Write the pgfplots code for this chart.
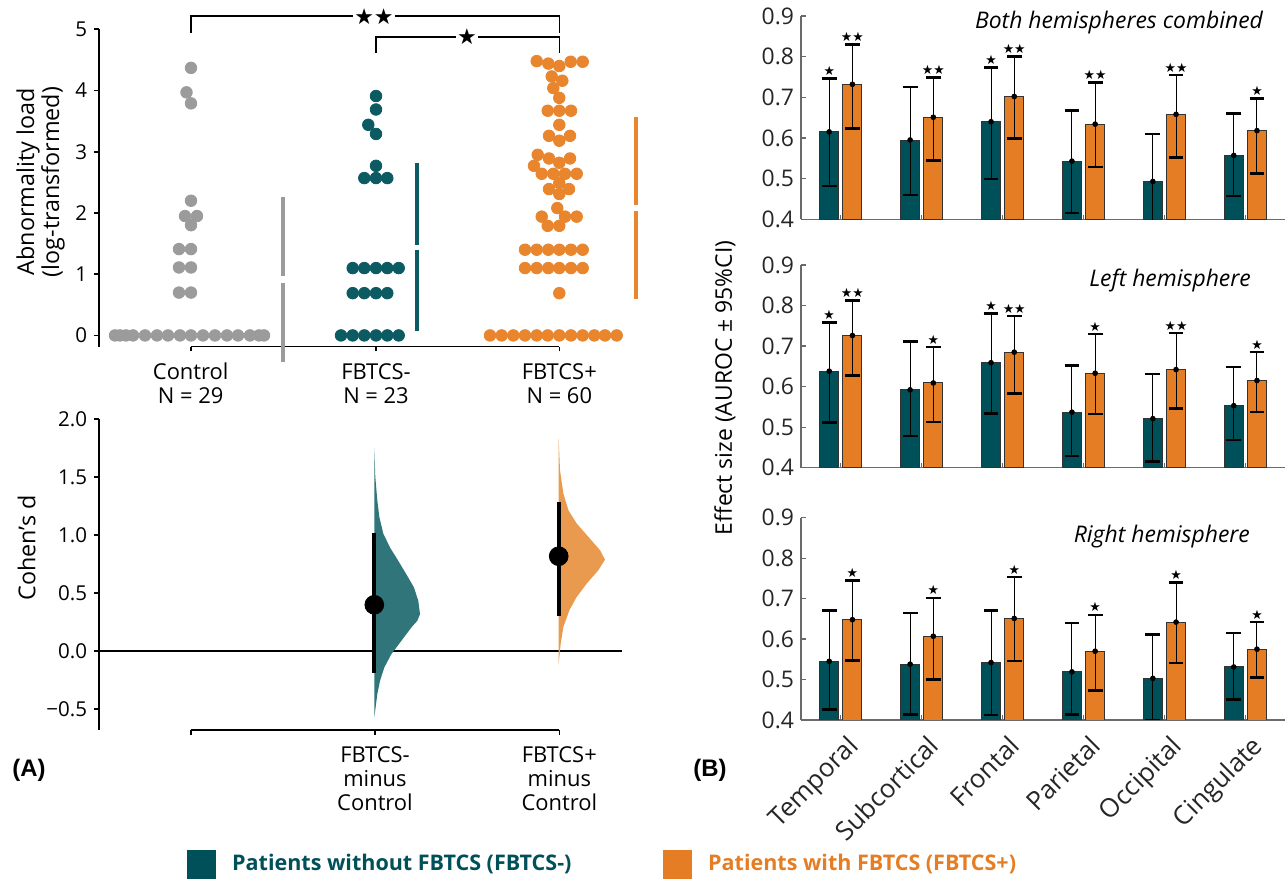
\documentclass[border=0pt]{standalone}
\usepackage{pgfplots}
\usepackage{pgfplotstable}
\pgfplotsset{compat=1.18}
\usepackage{fontspec}
\setmainfont{Open Sans}
\newfontfamily\starfont{DejaVu Sans}
\newfontfamily\labfont{Liberation Sans}
\definecolor{tealbar}{HTML}{00505A}
\definecolor{orangebar}{HTML}{E47D23}
\definecolor{tealdot}{HTML}{0C5A62}
\definecolor{orangedot}{HTML}{E8852D}
\definecolor{graydot}{HTML}{9B9B9B}
\definecolor{tealviolin}{HTML}{2F7579}
\definecolor{orangeviolin}{HTML}{EA9A4E}
\definecolor{axgray}{HTML}{6A6A6A}
\newcommand\stars[1]{\ifcase#1\relax\or★\or★★\fi}

% ---------- bar data: x  mean  CI-low  CI-high  stars ----------
\pgfplotstableread{
x m lo hi s
0 0.615 0.482 0.746 1
1 0.595 0.460 0.725 0
2 0.640 0.499 0.774 1
3 0.543 0.415 0.668 0
4 0.493 0.380 0.610 0
5 0.557 0.457 0.660 0
}\tBothT
\pgfplotstableread{
x m lo hi s
0 0.732 0.624 0.830 2
1 0.651 0.544 0.748 2
2 0.702 0.598 0.800 2
3 0.634 0.529 0.737 2
4 0.658 0.552 0.755 2
5 0.618 0.512 0.697 1
}\tBothO
\pgfplotstableread{
x m lo hi s
0 0.638 0.512 0.758 1
1 0.592 0.478 0.712 0
2 0.659 0.534 0.781 1
3 0.537 0.429 0.652 0
4 0.521 0.415 0.631 0
5 0.553 0.468 0.648 0
}\tLeftT
\pgfplotstableread{
x m lo hi s
0 0.726 0.627 0.812 2
1 0.609 0.513 0.698 1
2 0.685 0.583 0.774 2
3 0.633 0.532 0.730 1
4 0.642 0.546 0.732 2
5 0.615 0.537 0.685 1
}\tLeftO
\pgfplotstableread{
x m lo hi s
0 0.545 0.426 0.671 0
1 0.538 0.414 0.664 0
2 0.542 0.412 0.671 0
3 0.519 0.413 0.640 0
4 0.503 0.400 0.611 0
5 0.531 0.451 0.615 0
}\tRightT
\pgfplotstableread{
x m lo hi s
0 0.648 0.547 0.745 1
1 0.607 0.500 0.702 1
2 0.651 0.546 0.753 1
3 0.570 0.473 0.660 1
4 0.642 0.541 0.740 1
5 0.575 0.505 0.642 1
}\tRightO

% ---------- swarm data (x in layout units, y = abnormality load) ----------
\pgfplotstableread{
x y
115 0
120 0
126 0
133 0
145 0
157 0
168 0
180 0
191 0
203 0
215 0
227 0
238 0
250 0
259 0
264 0
191 4.37
186.5 3.97
191 3.79
191 2.20
185 1.95
197 1.95
191 1.80
179 1.41
191 1.41
179 1.11
191 1.11
179 0.70
191 0.70
}\dCtrl
\pgfplotstableread{
x y
376 3.91
376 3.69
368.3 3.44
376 3.29
376 2.77
364.3 2.57
376 2.57
387.3 2.57
352.7 1.10
364.3 1.10
376 1.10
387.3 1.10
398.7 1.10
352.7 0.69
364.3 0.69
376 0.69
387.3 0.69
341 0
352.7 0
364.3 0
376 0
387.3 0
398.7 0
}\dNeg
\pgfplotstableread{
x y
536.7 4.48
548.3 4.44
559.3 4.40
570.7 4.47
582.7 4.47
551.7 4.23
562.3 4.16
553.3 4.04
559.3 3.88
547.7 3.67
559.3 3.67
571 3.67
559.3 3.44
549 3.26
570 3.26
559.3 3.18
537.7 2.95
549 2.89
570 2.89
559.3 2.82
534 2.77
541.7 2.64
553.3 2.64
565 2.64
576.7 2.64
559.3 2.49
549 2.39
569 2.39
559.3 2.31
557.3 2.08
541.7 1.94
565 1.94
576.7 1.94
547.7 1.79
559.3 1.79
525 1.40
536.7 1.40
548.3 1.40
559.3 1.40
571 1.40
582.7 1.40
525 1.10
536.7 1.10
548.3 1.10
559.3 1.10
571 1.10
582.7 1.10
559.3 0.69
490 0
501.7 0
513.3 0
525 0
536.7 0
547.7 0
559.3 0
571 0
582.7 0
594.3 0
605 0
616.7 0
}\dPos

% ---------- half-violin outlines (x, Cohen's d) ----------
\pgfplotstableread{
x y
374.3 1.756
375.3 1.503
377.3 1.302
379.3 1.158
383.3 1.014
390.0 0.894
398.3 0.779
406.3 0.664
414.0 0.549
418.3 0.434
420.0 0.319
417.3 0.262
411.3 0.204
401.3 0.089
391.3 -0.026
384.3 -0.141
380.0 -0.256
377.3 -0.371
375.6 -0.486
374.3 -0.572
}\vNeg
\pgfplotstableread{
x y
558.7 1.834
560.0 1.560
563.4 1.359
568.4 1.216
576.7 1.101
588.4 0.986
600.0 0.871
605.0 0.790
598.4 0.698
586.7 0.583
576.7 0.468
569.4 0.353
563.4 0.210
560.7 0.066
558.7 -0.106
}\vPos

\pgfplotsset{
  leftax/.style={
    scale only axis, width=261.65bp,
    xmin=98.7, xmax=622,
    axis x line*=bottom, axis y line*=left,
    x axis line style={draw=none},
    y axis line style={black, line width=0.8bp, -},
    tick align=outside, major tick length=2.3bp,
    tick style={black, line width=0.8bp},
    clip=false,
    yticklabel style={font=\fontsize{10.3}{12}\selectfont},
    xticklabel style={align=center, font=\fontsize{11}{12}\selectfont, yshift=-2.5bp},
  },
  barax/.style={
    scale only axis, width=242bp,
    xmin=-0.492, xmax=5.49, ymin=0.4, ymax=0.9,
    clip mode=individual,
    axis x line*=bottom, axis y line*=left,
    axis line style={axgray, line width=0.6bp, -},
    tick align=inside, major tick length=2.3bp,
    tick style={axgray, line width=0.6bp},
    xtick={0,1,2,3,4,5}, xticklabels={},
    ytick={0.4,0.5,0.6,0.7,0.8,0.9},
    yticklabels={0.4,0.5,0.6,0.7,0.8,0.9},
    ticklabel style={font=\fontsize{11.5}{13}\selectfont, text=black!85},
    bar width=0.235,
  },
  barT/.style={ybar, bar shift=0pt, fill=tealbar, draw=black!80, line width=0.5bp,
    error bars/.cd, y dir=both, y explicit, error mark=|,
    error bar style={black, line width=0.5bp},
    error mark options={black, line width=1.3bp, mark size=3.7bp}},
  barO/.style={ybar, bar shift=0pt, fill=orangebar, draw=black!80, line width=0.5bp,
    error bars/.cd, y dir=both, y explicit, error mark=|,
    error bar style={black, line width=0.5bp},
    error mark options={black, line width=1.3bp, mark size=3.7bp}},
  starplot/.style={draw=none, mark=none, point meta=explicit symbolic,
    nodes near coords={\starfont\fontsize{6.4}{7}\selectfont\stars{\pgfplotspointmeta}},
    every node near coord/.style={anchor=south, inner sep=1.2bp, text=black}},
}

\newcommand\barpanel[2]{%
  \addplot[barT] table[x expr=\thisrow{x}-0.1434, y=m,
     y error plus expr=\thisrow{hi}-\thisrow{m}, y error minus expr=\thisrow{m}-\thisrow{lo}] #1;
  \addplot[barO] table[x expr=\thisrow{x}+0.1434, y=m,
     y error plus expr=\thisrow{hi}-\thisrow{m}, y error minus expr=\thisrow{m}-\thisrow{lo}] #2;
  \addplot[only marks, mark=*, mark size=1.2bp, black] table[x expr=\thisrow{x}-0.1434, y=m] #1;
  \addplot[only marks, mark=*, mark size=1.2bp, black] table[x expr=\thisrow{x}+0.1434, y=m] #2;
  \addplot[starplot] table[x expr=\thisrow{x}-0.1434, y=hi, meta=s] #1;
  \addplot[starplot] table[x expr=\thisrow{x}+0.1434, y=hi, meta=s] #2;
}

\begin{document}
\begin{tikzpicture}
\useasboundingbox (0,0) rectangle (643.5bp,441.5bp);

% ================= (A) top: abnormality load =================
\begin{axis}[leftax, at={(49.35bp,268.15bp)}, anchor=south west, height=158.7bp,
  ymin=-0.184, ymax=5,
  ytick={0,1,2,3,4,5}, yticklabels={0,1,2,3,4,5},
  xtick={190.7,376,559.3},
  xticklabels={{Control\\N = 29},{FBTCS-\\N = 23},{FBTCS+\\N = 60}},
  ylabel={Abnormality load\\(log-transformed)},
  every axis y label/.style={at={(axis description cs:-0.111,0.519)}, rotate=90,
     anchor=center, align=center, font=\fontsize{11.7}{12.5}\selectfont},
]
\draw[black, line width=0.8bp] (axis cs:190.7,-0.184) -- (axis cs:559.3,-0.184);
\addplot[only marks, mark=*, mark size=2.9bp, graydot, mark options={draw=none}] table {\dCtrl};
\addplot[only marks, mark=*, mark size=2.9bp, tealdot, mark options={draw=none}] table {\dNeg};
\addplot[only marks, mark=*, mark size=2.9bp, orangedot, mark options={draw=none}] table {\dPos};
% mean +/- sd gap lines
\addplot[graydot, line width=2bp] coordinates {(282.7,2.26) (282.7,0.97)};
\addplot[graydot, line width=2bp] coordinates {(282.7,0.86) (282.7,-0.43)};
\addplot[tealdot, line width=2bp] coordinates {(416.7,2.82) (416.7,1.485)};
\addplot[tealdot, line width=2bp] coordinates {(416.7,1.40) (416.7,0.07)};
\addplot[orangedot, line width=2bp] coordinates {(635.7,3.56) (635.7,2.13)};
\addplot[orangedot, line width=2bp] coordinates {(635.7,2.03) (635.7,0.60)};
% significance brackets
\draw[black, line width=0.8bp] (axis cs:190.7,4.94) -- (axis cs:190.7,5.215) -- (axis cs:559.3,5.215) -- (axis cs:559.3,4.94);
\draw[black, line width=0.8bp] (axis cs:376,4.61) -- (axis cs:376,4.877) -- (axis cs:559.3,4.877) -- (axis cs:559.3,4.61);
\node[fill=white, inner sep=0.6bp, font=\starfont\fontsize{11}{12}\selectfont] at (axis cs:374,5.215) {★★};
\node[fill=white, inner sep=0.6bp, font=\starfont\fontsize{11}{12}\selectfont] at (axis cs:467,4.877) {★};
\end{axis}

% ================= (A) bottom: Cohen's d =================
\begin{axis}[leftax, at={(49.35bp,76.5bp)}, anchor=south west, height=155.35bp,
  ymin=-0.68, ymax=2.0,
  ytick={-0.5,0,0.5,1,1.5,2}, yticklabels={−0.5,0.0,0.5,1.0,1.5,2.0},
  xtick={190.7,375,559.3},
  xticklabels={{},{FBTCS-\\minus\\Control},{FBTCS+\\minus\\Control}},
  ylabel={Cohen's d},
  every axis y label/.style={at={(axis description cs:-0.1376,0.586)}, rotate=90,
     anchor=center, font=\fontsize{11.7}{12.5}\selectfont},
  legend style={at={(axis description cs:0.1687,-0.4313)}, anchor=west, draw=none, fill=none,
     inner sep=0pt, font=\bfseries\fontsize{10.8}{12}\selectfont, text=tealbar,
     /tikz/every odd column/.append style={column sep=6bp}},
]
\addlegendimage{legend image code/.code={\fill[tealbar] (0bp,-7bp) rectangle (14bp,7bp);}}
\addlegendentry{Patients without FBTCS (FBTCS-)}
\draw[black, line width=0.8bp] (axis cs:190.7,-0.68) -- (axis cs:559.3,-0.68);
\draw[black, line width=0.8bp] (axis cs:98.7,0) -- (axis cs:622,0);
\addplot[fill=tealviolin, draw=none] table {\vNeg};
\addplot[fill=orangeviolin, draw=none] table {\vPos};
\addplot[black, line width=2.1bp] coordinates {(374.3,-0.187) (374.3,1.02)};
\addplot[black, line width=2.1bp] coordinates {(558.7,0.30) (558.7,1.287)};
\addplot[only marks, mark=*, mark size=4.7bp, black] coordinates {(374.3,0.40)};
\addplot[only marks, mark=*, mark size=4.7bp, black] coordinates {(558.7,0.819)};
\end{axis}

% ================= (B) bars =================
\begin{axis}[barax, at={(400.5bp,331.85bp)}, anchor=south west, height=101.65bp]
\barpanel{\tBothT}{\tBothO}
\node[anchor=east, font=\itshape\fontsize{11.5}{13}\selectfont] at (rel axis cs:0.969,0.97) {Both hemispheres combined};
\end{axis}

\begin{axis}[barax, at={(400.5bp,207.65bp)}, anchor=south west, height=101.35bp,
  ylabel={Effect size (AUROC ± 95\%CI)},
  every axis y label/.style={at={(axis description cs:-0.157,0.393)}, rotate=90,
     anchor=center, font=\fontsize{11.5}{13}\selectfont},
]
\barpanel{\tLeftT}{\tLeftO}
\node[anchor=east, font=\itshape\fontsize{11.5}{13}\selectfont] at (rel axis cs:0.944,0.926) {Left hemisphere};
\end{axis}

\begin{axis}[barax, at={(400.5bp,81.5bp)}, anchor=south west, height=101.15bp,
  xticklabels={Temporal,Subcortical,Frontal,Parietal,Occipital,Cingulate},
  xticklabel style={rotate=45, anchor=north east, inner sep=0pt,
     font=\fontsize{13}{14}\selectfont, xshift=-3bp, yshift=-6.5bp},
  legend style={at={(axis description cs:-0.2851,-0.7118)}, anchor=west, draw=none, fill=none,
     inner sep=0pt, font=\bfseries\fontsize{10.8}{12}\selectfont, text=orangebar,
     /tikz/every odd column/.append style={column sep=6bp}},
]
\addlegendimage{legend image code/.code={\fill[orangebar] (0bp,-7bp) rectangle (14bp,7bp);}}
\addlegendentry{Patients with FBTCS (FBTCS+)}
\barpanel{\tRightT}{\tRightO}
\node[anchor=east, font=\itshape\fontsize{11.5}{13}\selectfont] at (rel axis cs:0.942,0.905) {Right hemisphere};
\end{axis}

\node[font=\labfont\bfseries\fontsize{12}{14}\selectfont] at (14.5bp,56.5bp) {(A)};
\node[font=\labfont\bfseries\fontsize{12}{14}\selectfont] at (355bp,56.5bp) {(B)};
\end{tikzpicture}
\end{document}
